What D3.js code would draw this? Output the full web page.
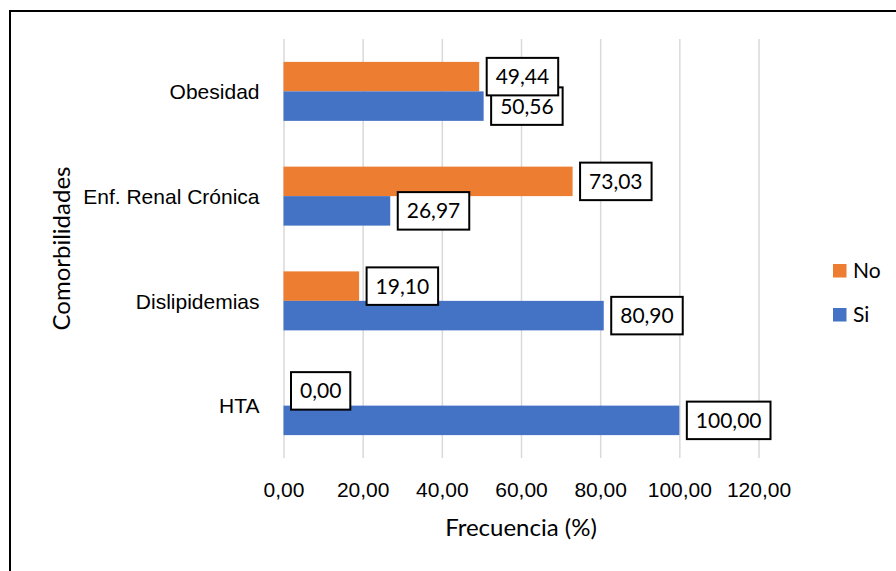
<!DOCTYPE html>
<html>
<head>
<meta charset="utf-8">
<script src="https://cdn.jsdelivr.net/npm/d3@7"></script>
<style>
  body { margin: 0; background: #fff; }
  svg { display: block; font-family: Lato, "Open Sans", sans-serif; }
</style>
</head>
<body>
<svg id="chart" width="896" height="571"></svg>
<script>
// Comorbidities: share of patients with (Si) / without (No) each condition, in %
const categories = ["Obesidad", "Enf. Renal Crónica", "Dislipidemias", "HTA"];
const seriesNames = ["No", "Si"];
const valuesNo = [49.44, 73.03, 19.10, 0.00];
const valuesSi = [50.56, 26.97, 80.90, 100.00];
const xTicks = [0, 20, 40, 60, 80, 100, 120];
const seriesColors = ["#ED7D31", "#4472C4"];
const xTitle = "Frecuencia (%)";
const yTitle = "Comorbilidades";

const svg = d3.select("#chart");
const fontSize = 21;
const titleSize = 24;

const locale = d3.formatLocale({ decimal: ",", thousands: ".", grouping: [3], currency: ["", "€"] });
const fmt = locale.format(".2f");

const plot = { left: 283.5, right: 758.5, top: 39, bottom: 458 };

const x = d3.scaleLinear().domain([0, 120]).range([plot.left, plot.right]);
const y0 = d3.scaleBand().domain(categories).range([plot.top, plot.bottom])
  .paddingInner(0.437).paddingOuter(0.2185);
const y1 = d3.scaleBand().domain(seriesNames).range([0, y0.bandwidth()]);
const color = d3.scaleOrdinal().domain(seriesNames).range(seriesColors);

// outer frame
svg.append("rect")
  .attr("x", 10).attr("y", 11).attr("width", 900).attr("height", 580)
  .attr("fill", "none").attr("stroke", "#000").attr("stroke-width", 2);

// vertical gridlines
const grid = svg.append("g").attr("transform", `translate(0,${plot.bottom})`)
  .call(d3.axisBottom(x).tickValues(xTicks).tickSize(-(plot.bottom - plot.top)).tickFormat(""));
grid.select(".domain").remove();
grid.selectAll(".tick line").attr("stroke", "#d9d9d9").attr("stroke-width", 1.5);

// x tick labels
const xAxis = svg.append("g").attr("transform", `translate(0,${plot.bottom})`)
  .call(d3.axisBottom(x).tickValues(xTicks).tickSize(0).tickFormat(fmt));
xAxis.select(".domain").remove();
xAxis.selectAll(".tick text")
  .attr("y", 39).attr("dy", 0)
  .attr("font-size", fontSize).attr("font-family", null).attr("fill", "#000");

// category labels
const yAxis = svg.append("g").attr("transform", `translate(${plot.left},0)`)
  .call(d3.axisLeft(y0).tickSize(0).tickPadding(24));
yAxis.select(".domain").remove();
yAxis.selectAll(".tick text")
  .attr("dy", "0.37em")
  .attr("font-size", fontSize).attr("font-family", null).attr("fill", "#000");

// data rows
const rows = categories.map((c, i) => ({ cat: c, No: valuesNo[i], Si: valuesSi[i] }));

const groups = svg.append("g").selectAll("g").data(rows).join("g")
  .attr("transform", d => `translate(0,${y0(d.cat)})`);

groups.selectAll("rect").data(d => seriesNames.map(k => ({ key: k, value: d[k] }))).join("rect")
  .attr("x", x(0))
  .attr("y", d => y1(d.key))
  .attr("height", y1.bandwidth())
  .attr("width", d => x(d.value) - x(0))
  .attr("fill", d => color(d.key));

// boxed value labels (Si series drawn first, No on top)
const labelLayer = svg.append("g");
const boxH = 37.5, padX = 9, gap = 7.5;
["Si", "No"].forEach(key => {
  rows.forEach(r => {
    const v = r[key];
    const cy = y0(r.cat) + y1(key) + y1.bandwidth() / 2;
    const g = labelLayer.append("g");
    const rect = g.append("rect");
    const t = g.append("text")
      .attr("x", x(v) + gap + padX)
      .attr("y", cy)
      .attr("dy", "0.36em")
      .attr("font-size", fontSize)
      .attr("fill", "#000")
      .text(fmt(v));
    const w = t.node().getComputedTextLength();
    rect.attr("x", x(v) + gap).attr("y", cy - boxH / 2)
      .attr("width", w + 2 * padX).attr("height", boxH)
      .attr("fill", "#fff").attr("stroke", "#000").attr("stroke-width", 2);
  });
});

// axis titles
svg.append("text")
  .attr("x", (plot.left + plot.right) / 2).attr("y", 536)
  .attr("text-anchor", "middle").attr("font-size", titleSize).attr("fill", "#000")
  .text(xTitle);

svg.append("text")
  .attr("transform", `translate(70,${(plot.top + plot.bottom) / 2}) rotate(-90)`)
  .attr("text-anchor", "middle")
  .attr("font-size", titleSize).attr("fill", "#000")
  .text(yTitle);

// legend
const legend = svg.append("g");
seriesNames.forEach((k, i) => {
  const ly = 264 + i * 44;
  legend.append("rect").attr("x", 833).attr("y", ly).attr("width", 13.5).attr("height", 13.5)
    .attr("fill", color(k));
  legend.append("text").attr("x", 853).attr("y", ly + 13.5).attr("font-size", fontSize)
    .attr("fill", "#000").text(k);
});
</script>
</body>
</html>
